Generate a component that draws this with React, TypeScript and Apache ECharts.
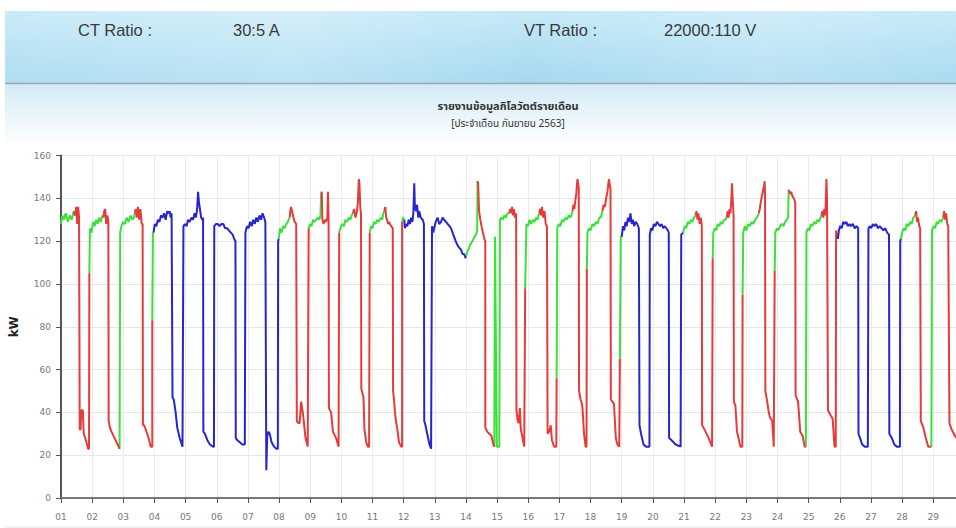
import React, { useEffect, useRef } from "react";
import * as echarts from "echarts";

// x = day of month (fractional), y = kW
const greenSegments: number[][][] = [
  [[1.0,128],[1.04,132],[1.09,130],[1.15,133],[1.22,129],[1.28,132],[1.34,130],[1.41,134]],
  [[1.91,105],[1.93,126],[1.98,124],[2.03,129],[2.08,127],[2.13,130],[2.18,128],[2.23,131],[2.28,129],[2.33,132],[2.36,131]],
  [[2.88,23],[2.90,124],[2.94,127],[2.99,129],[3.05,128],[3.11,131],[3.17,129],[3.23,132],[3.29,130],[3.34,131],[3.37,133]],
  [[3.93,83],[3.95,124],[3.97,124]],
  [[7.99,121],[8.03,126],[8.08,124],[8.13,127],[8.18,126],[8.23,128],[8.28,129],[8.34,131]],
  [[8.95,126],[8.99,128],[9.04,127],[9.09,130],[9.14,129],[9.19,130],[9.24,131],[9.29,130],[9.33,132],[9.35,142]],
  [[9.93,124],[9.97,126],[10.02,128],[10.08,127],[10.13,130],[10.18,129],[10.24,131],[10.29,130],[10.33,132],[10.37,133]],
  [[10.91,124],[10.95,127],[11.0,126],[11.05,129],[11.1,128],[11.15,130],[11.2,129],[11.26,131],[11.31,130],[11.35,133],[11.38,134]],
  [[11.95,129],[11.98,131],[12.02,130]],
  [[13.99,112],[14.04,115],[14.10,117],[14.16,119],[14.21,120],[14.27,122],[14.32,123],[14.36,125],[14.37,148]],
  [[14.91,24],[14.93,122],[14.95,122],[14.99,24],[15.07,24],[15.09,130],[15.13,131],[15.18,130],[15.23,132],[15.28,131],[15.33,133],[15.39,133]],
  [[15.90,98],[15.94,128],[15.99,127],[16.04,130],[16.09,128],[16.15,130],[16.20,129],[16.25,131],[16.30,130],[16.35,133]],
  [[16.91,56],[16.93,126],[16.98,128],[17.03,127],[17.08,130],[17.13,129],[17.19,131],[17.24,130],[17.30,132],[17.36,131],[17.42,134]],
  [[17.88,107],[17.90,124],[17.95,126],[18.0,125],[18.06,128],[18.11,127],[18.17,129],[18.22,128],[18.28,131],[18.33,131],[18.38,134]],
  [[18.94,65],[18.97,122],[19.0,122]],
  [[20.97,124],[21.02,127],[21.07,126],[21.12,129],[21.17,128],[21.22,130],[21.27,129],[21.32,131],[21.37,132]],
  [[21.92,112],[21.94,124],[21.98,126],[22.03,125],[22.08,128],[22.13,127],[22.18,129],[22.23,128],[22.28,130],[22.33,130],[22.37,131]],
  [[22.88,95],[22.90,124],[22.95,127],[23.0,125],[23.06,128],[23.11,127],[23.17,129],[23.22,128],[23.28,130],[23.34,131],[23.40,133]],
  [[23.91,106],[23.93,124],[23.98,126],[24.03,125],[24.08,127],[24.13,128],[24.19,127],[24.24,129],[24.30,130],[24.34,131],[24.36,144]],
  [[24.91,24],[24.93,124],[24.97,126],[25.02,125],[25.07,128],[25.12,127],[25.18,129],[25.23,128],[25.28,130],[25.33,129],[25.38,131],[25.41,132]],
  [[27.96,121],[28.0,124],[28.05,126],[28.10,125],[28.15,128],[28.21,127],[28.26,129],[28.31,128],[28.36,131],[28.42,132]],
  [[28.94,24],[28.96,125],[29.01,127],[29.06,126],[29.11,129],[29.16,128],[29.21,130],[29.26,129],[29.32,131]],
];

const redSegments: number[][][] = [
  [[1.41,134],[1.45,132],[1.49,136],[1.52,128],[1.55,136],[1.58,131],[1.60,32],[1.63,32],[1.65,41],[1.70,41],[1.73,30],[1.80,27],[1.87,23],[1.90,23],[1.91,105]],
  [[2.36,131],[2.39,134],[2.42,135],[2.45,128],[2.49,132],[2.52,129],[2.53,36],[2.57,33],[2.62,31],[2.72,28],[2.82,25],[2.88,23]],
  [[3.37,133],[3.40,135],[3.43,131],[3.47,136],[3.51,130],[3.55,135],[3.59,128],[3.62,128],[3.63,34],[3.67,34],[3.72,32],[3.81,28],[3.88,24],[3.93,24],[3.93,83]],
  [[8.34,131],[8.38,136],[8.42,134],[8.46,131],[8.50,129],[8.55,128],[8.57,36],[8.62,35],[8.66,35],[8.71,45],[8.77,39],[8.85,28],[8.92,24],[8.94,24],[8.95,126]],
  [[9.35,142],[9.37,143],[9.39,130],[9.43,128],[9.47,130],[9.51,129],[9.55,131],[9.57,143],[9.59,130],[9.60,42],[9.67,40],[9.73,31],[9.83,28],[9.91,24],[9.92,24],[9.93,124]],
  [[10.37,133],[10.41,135],[10.45,131],[10.50,134],[10.53,138],[10.56,149],[10.58,147],[10.61,135],[10.63,133],[10.64,51],[10.71,47],[10.74,32],[10.80,26],[10.85,24],[10.89,24],[10.91,124]],
  [[11.38,134],[11.41,136],[11.44,131],[11.47,130],[11.50,128],[11.53,129],[11.56,128],[11.60,127],[11.65,126],[11.66,50],[11.69,46],[11.72,40],[11.76,35],[11.79,33],[11.85,26],[11.92,24],[11.95,24],[11.95,129]],
  [[14.37,148],[14.39,147],[14.42,134],[14.46,130],[14.50,127],[14.53,125],[14.59,121],[14.62,120],[14.62,33],[14.68,31],[14.75,30],[14.82,29],[14.88,25],[14.91,24]],
  [[15.39,133],[15.42,135],[15.45,133],[15.48,136],[15.51,132],[15.54,135],[15.57,131],[15.61,133],[15.62,41],[15.66,36],[15.69,35],[15.73,42],[15.76,32],[15.79,30],[15.87,24],[15.89,24],[15.90,98]],
  [[16.35,133],[16.38,135],[16.41,132],[16.44,136],[16.48,131],[16.52,134],[16.56,128],[16.60,127],[16.62,30],[16.67,31],[16.72,34],[16.76,27],[16.83,24],[16.90,24],[16.91,56]],
  [[17.42,134],[17.45,137],[17.48,135],[17.51,139],[17.54,142],[17.56,146],[17.58,149],[17.60,147],[17.62,145],[17.63,50],[17.68,46],[17.72,44],[17.74,42],[17.79,30],[17.84,24],[17.87,24],[17.88,107]],
  [[18.38,134],[18.42,137],[18.46,136],[18.50,140],[18.54,143],[18.57,147],[18.59,149],[18.62,146],[18.64,144],[18.65,46],[18.70,45],[18.75,44],[18.81,28],[18.86,25],[18.92,24],[18.94,65]],
  [[21.37,132],[21.40,134],[21.43,130],[21.46,133],[21.50,128],[21.54,131],[21.57,127],[21.58,34],[21.62,33],[21.69,31],[21.79,28],[21.90,24],[21.92,112]],
  [[22.37,131],[22.40,134],[22.43,131],[22.46,135],[22.49,133],[22.52,140],[22.54,147],[22.56,140],[22.59,132],[22.60,45],[22.65,43],[22.70,31],[22.81,24],[22.87,24],[22.88,95]],
  [[23.40,133],[23.43,135],[23.46,138],[23.50,141],[23.54,144],[23.57,146],[23.59,148],[23.60,140],[23.61,50],[23.67,45],[23.71,41],[23.75,38],[23.83,36],[23.88,24],[23.90,24],[23.91,106]],
  [[24.36,144],[24.40,142],[24.44,143],[24.48,141],[24.52,140],[24.55,139],[24.57,138],[24.58,48],[24.66,45],[24.73,31],[24.81,29],[24.87,24],[24.91,24]],
  [[25.41,132],[25.44,134],[25.47,131],[25.50,135],[25.53,132],[25.55,138],[25.57,149],[25.59,140],[25.62,41],[25.69,39],[25.77,37],[25.83,24],[25.87,24],[25.88,125],[25.94,121]],
  [[28.42,132],[28.45,134],[28.48,129],[28.51,131],[28.55,127],[28.58,126],[28.60,36],[28.68,33],[28.76,28],[28.84,24],[28.94,24]],
  [[29.32,131],[29.35,134],[29.38,130],[29.41,133],[29.45,128],[29.48,127],[29.52,35],[29.59,32],[29.73,28]],
];

const blueSegments: number[][][] = [
  [[3.97,124],[4.01,128],[4.06,127],[4.11,130],[4.16,129],[4.21,132],[4.26,131],[4.31,133],[4.36,130],[4.41,134],[4.45,133],[4.49,134],[4.52,131],[4.55,133],[4.58,47],[4.62,46],[4.68,40],[4.73,33],[4.81,28],[4.90,24],[4.92,24],[4.93,127],[4.98,128],[5.03,127],[5.08,130],[5.13,129],[5.19,131],[5.24,130],[5.29,133],[5.33,131],[5.37,135],[5.40,143],[5.43,138],[5.46,135],[5.50,131],[5.54,130],[5.56,131],[5.57,31],[5.62,30],[5.70,27],[5.78,25],[5.88,24],[5.91,24],[5.92,127],[5.97,128],[6.03,128],[6.09,127],[6.15,128],[6.21,128],[6.27,126],[6.33,126],[6.39,125],[6.45,124],[6.51,123],[6.56,121],[6.60,120],[6.61,28],[6.66,27],[6.74,26],[6.82,25],[6.90,25],[6.92,124],[6.97,127],[7.02,126],[7.07,129],[7.12,127],[7.17,130],[7.22,128],[7.27,131],[7.32,129],[7.37,132],[7.42,130],[7.47,133],[7.52,131],[7.56,129],[7.59,13],[7.62,29],[7.66,31],[7.70,30],[7.76,26],[7.84,24],[7.91,23],[7.96,23],[7.97,120],[7.99,121]],
  [[12.02,130],[12.04,126],[12.08,128],[12.12,127],[12.16,130],[12.20,128],[12.24,131],[12.28,129],[12.31,133],[12.33,142],[12.34,147],[12.36,136],[12.40,134],[12.43,137],[12.47,131],[12.50,134],[12.55,131],[12.61,130],[12.65,128],[12.66,36],[12.70,34],[12.77,29],[12.83,25],[12.88,23],[12.90,23],[12.91,127],[12.95,124],[12.98,126],[13.03,129],[13.09,131],[13.14,128],[13.20,129],[13.25,131],[13.30,130],[13.36,129],[13.41,128],[13.47,127],[13.52,126],[13.57,124],[13.62,122],[13.67,120],[13.73,118],[13.78,117],[13.84,116],[13.89,114],[13.94,114],[13.99,112]],
  [[19.0,122],[19.04,127],[19.08,125],[19.12,129],[19.16,127],[19.20,131],[19.24,129],[19.28,133],[19.32,128],[19.36,130],[19.40,127],[19.45,129],[19.50,128],[19.55,126],[19.57,34],[19.62,30],[19.70,25],[19.78,24],[19.89,24],[19.90,123],[19.94,126],[19.98,125],[20.03,128],[20.08,127],[20.13,129],[20.18,128],[20.23,127],[20.28,128],[20.33,126],[20.38,127],[20.43,126],[20.48,125],[20.51,124],[20.52,28],[20.60,27],[20.73,25],[20.89,24],[20.91,123],[20.97,124]],
  [[25.94,121],[25.97,125],[26.01,127],[26.06,126],[26.11,129],[26.16,128],[26.21,129],[26.26,127],[26.31,128],[26.36,127],[26.42,128],[26.48,126],[26.54,127],[26.59,126],[26.60,30],[26.65,28],[26.72,25],[26.80,24],[26.90,24],[26.92,126],[26.96,127],[27.01,126],[27.06,128],[27.11,127],[27.17,128],[27.22,126],[27.28,127],[27.34,126],[27.40,125],[27.46,126],[27.52,124],[27.58,123],[27.59,30],[27.67,28],[27.75,25],[27.83,24],[27.93,24],[27.94,120],[27.96,121]],
];

const headerTexts = [
  { text: "CT Ratio :", x: 78 },
  { text: "30:5 A", x: 233 },
  { text: "VT Ratio :", x: 524 },
  { text: "22000:110 V", x: 664 },
];

const titleText = "รายงานข้อมูลกิโลวัตต์รายเดือน";
const subTitleText = "[ประจำเดือน กันยายน 2563]";

function withGaps(segs: number[][][]) {
  const out: any[] = [];
  segs.forEach((s, i) => {
    if (i > 0) out.push([s[0][0], "-"]);
    s.forEach((p) => out.push(p));
  });
  return out;
}

export default function App() {
  const ref = useRef<HTMLDivElement>(null);
  useEffect(() => {
    document.body.style.margin = "0";
    const chart = echarts.init(ref.current!, null, { renderer: "svg" });
    const thaiFont = 'Tahoma, "Noto Sans Thai", "Noto Sans", "DejaVu Sans", sans-serif';
    const lineSeries = (name: string, color: string, segs: number[][][]) => ({
      name,
      type: "line",
      data: withGaps(segs),
      showSymbol: false,
      symbol: "none",
      connectNulls: false,
      lineStyle: { color, width: 2 },
      itemStyle: { color },
      z: 3,
    });
    chart.setOption({
      animation: false,
      backgroundColor: "#ffffff",
      grid: { left: 59, right: 0, top: 155.5, bottom: 30, containLabel: false },
      xAxis: {
        type: "value",
        min: 1,
        max: 29.73,
        interval: 1,
        axisLine: { show: true, lineStyle: { color: "#7a7a7a", width: 2 } },
        axisTick: { show: true, length: 5, lineStyle: { color: "#555" } },
        axisLabel: {
          color: "#777",
          fontSize: 9,
          fontFamily: "DejaVu Sans",
          margin: 14,
          showMaxLabel: false,
          formatter: (v: number) =>
            Math.abs(v - Math.round(v)) < 1e-6 ? String(Math.round(v)).padStart(2, "0") : "",
        },
        splitLine: { show: true, lineStyle: { color: "#ebebeb", width: 1 } },
      },
      yAxis: {
        type: "value",
        min: 0,
        max: 160,
        interval: 20,
        name: "kW",
        nameLocation: "middle",
        nameRotate: 90,
        nameGap: 41,
        nameTextStyle: { fontWeight: "bold", fontSize: 12, color: "#222", fontFamily: "DejaVu Sans" },
        axisLine: { show: true, lineStyle: { color: "#555", width: 2 } },
        axisTick: { show: true, length: 5, lineStyle: { color: "#555" } },
        axisLabel: { color: "#777", fontSize: 9, fontFamily: "DejaVu Sans", margin: 10 },
        splitLine: { show: true, lineStyle: { color: "#e6e6e6", width: 1 } },
      },
      graphic: [
        {
          type: "rect",
          z: -10,
          shape: { x: 5, y: 11, width: 951, height: 72 },
          style: {
            fill: new echarts.graphic.LinearGradient(0, 0, 0, 1, [
              { offset: 0, color: "#c6e9f7" },
              { offset: 0.45, color: "#b6e2f4" },
              { offset: 1, color: "#a5d9f0" },
            ]),
          },
        },
        {
          type: "rect",
          z: -9,
          shape: { x: 5, y: 11, width: 951, height: 72 },
          style: {
            fill: new echarts.graphic.LinearGradient(0, 0, 1, 0, [
              { offset: 0, color: "rgba(255,255,255,0.10)" },
              { offset: 0.3, color: "rgba(255,255,255,0.25)" },
              { offset: 0.55, color: "rgba(255,255,255,0.0)" },
              { offset: 0.8, color: "rgba(255,255,255,0.2)" },
              { offset: 1, color: "rgba(255,255,255,0.05)" },
            ]),
          },
        },
        {
          type: "rect",
          z: -10,
          shape: { x: 5, y: 84, width: 951, height: 62 },
          style: {
            fill: new echarts.graphic.LinearGradient(0, 0, 0, 1, [
              { offset: 0, color: "#d3ebf6" },
              { offset: 1, color: "#ffffff" },
            ]),
          },
        },
        {
          type: "line",
          z: -8,
          shape: { x1: 5, y1: 83.5, x2: 956, y2: 83.5 },
          style: { stroke: "#9ba9ae", lineWidth: 1.5 },
        },
        {
          type: "line",
          z: -8,
          shape: { x1: 5, y1: 527, x2: 956, y2: 527 },
          style: { stroke: "#e4e4e4", lineWidth: 1 },
        },
        ...headerTexts.map((h) => ({
          type: "text",
          z: -7,
          x: h.x,
          y: 30,
          style: {
            text: h.text,
            fill: "#3a3a3a",
            font: '16.5px "Liberation Sans", Arial, sans-serif',
            verticalAlign: "middle",
          },
        })),
        {
          type: "text",
          z: -7,
          x: 508,
          y: 106,
          style: {
            text: titleText,
            fill: "#333",
            font: `bold 11px ${thaiFont}`,
            align: "center",
            verticalAlign: "middle",
          },
        },
        {
          type: "text",
          z: -7,
          x: 508,
          y: 124,
          style: {
            text: subTitleText,
            fill: "#333",
            font: `10px ${thaiFont}`,
            align: "center",
            verticalAlign: "middle",
          },
        },
      ],
      series: [
        lineSeries("Green", "#3be03b", greenSegments),
        lineSeries("Red", "#e63b3b", redSegments),
        lineSeries("Blue", "#2626cc", blueSegments),
      ],
    });
    return () => chart.dispose();
  }, []);
  return <div ref={ref} style={{ width: 956, height: 528 }} />;
}
